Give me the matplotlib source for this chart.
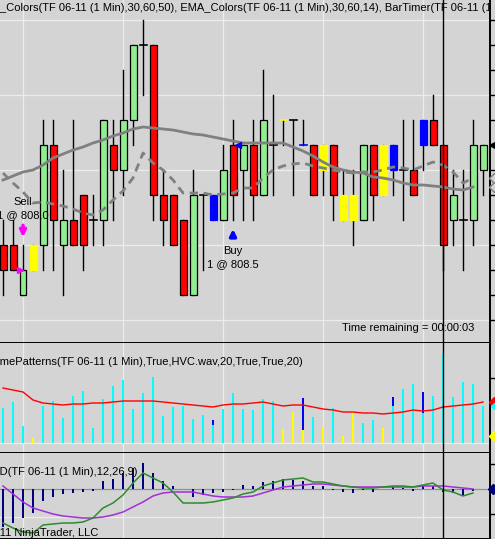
import numpy as np
import matplotlib
matplotlib.use("Agg")
import matplotlib.pyplot as plt
from matplotlib.patches import Rectangle

# ---- price bars (TF 06-11, 1 min) ----
opens = [808.1, 808.1, 807.9, 808.0, 808.1, 808.5, 808.1, 808.2, 808.3, 808.2,
         808.2, 808.5, 808.4, 808.6, 808.9, 808.9, 808.3, 808.3, 808.2, 807.9,
         808.3, 808.2, 808.2, 808.5, 808.4, 808.5, 808.3, 808.5, 808.6, 808.6,
         808.5, 808.5, 808.5, 808.5, 808.3, 808.3, 808.2, 808.5, 808.5, 808.5,
         808.4, 808.4, 808.6, 808.6, 808.5, 808.2, 808.2, 808.2, 808.4]
highs = [808.2, 808.2, 808.1, 808.1, 808.6, 808.6, 808.4, 808.6, 808.3, 808.3,
         808.6, 808.6, 808.8, 808.9, 809.0, 808.9, 808.4, 808.3, 808.2, 808.4,
         808.3, 808.3, 808.5, 808.6, 808.5, 808.6, 808.8, 808.7, 808.6, 808.6,
         808.6, 808.5, 808.5, 808.5, 808.4, 808.4, 808.5, 808.5, 808.5, 808.5,
         808.6, 808.6, 808.6, 808.7, 808.5, 808.4, 808.4, 808.6, 808.5]
lows = [807.9, 808.0, 807.9, 808.0, 808.0, 808.0, 807.9, 808.1, 808.0, 808.1,
        808.1, 808.2, 808.3, 808.5, 808.7, 808.2, 808.1, 808.1, 807.9, 807.9,
        808.0, 808.2, 808.2, 808.2, 808.2, 808.2, 808.3, 808.3, 808.5, 808.3,
        808.5, 808.3, 808.3, 808.2, 808.2, 808.1, 808.2, 808.2, 808.3, 808.3,
        808.2, 808.3, 808.4, 808.5, 808.0, 808.1, 808.0, 808.1, 808.3]
closes = [808.0, 808.0, 808.0, 808.1, 808.5, 808.2, 808.2, 808.1, 808.1, 808.2,
          808.6, 808.4, 808.6, 808.9, 808.9, 808.3, 808.2, 808.1, 807.9, 808.3,
          808.3, 808.3, 808.4, 808.3, 808.5, 808.3, 808.6, 808.5, 808.6, 808.6,
          808.5, 808.3, 808.4, 808.3, 808.2, 808.2, 808.5, 808.3, 808.3, 808.4,
          808.4, 808.3, 808.5, 808.5, 808.1, 808.3, 808.2, 808.5, 808.5]
# bars painted by the volume pattern indicator
paint_yellow = [3, 28, 32, 34, 35, 38]
paint_blue = [21, 30, 39, 42]

# EMA_Colors 50 (solid) and 14 (dashed)
ema_slow = [808.360, 808.376, 808.392, 808.400, 808.420, 808.448, 808.464, 808.480,
            808.492, 808.508, 808.520, 808.536, 808.548, 808.564, 808.572, 808.568,
            808.564, 808.560, 808.552, 808.544, 808.540, 808.532, 808.524, 808.516,
            808.508, 808.508, 808.508, 808.508, 808.508, 808.492, 808.476, 808.456,
            808.432, 808.412, 808.400, 808.392, 808.388, 808.372, 808.368, 808.360,
            808.348, 808.340, 808.340, 808.336, 808.332, 808.324, 808.320, 808.332]
ema_fast = [808.388, 808.348, 808.312, 808.268, 808.272, 808.264, 808.256, 808.244,
            808.228, 808.220, 808.240, 808.280, 808.316, 808.368, 808.468, 808.428,
            808.400, 808.360, 808.308, 808.308, 808.308, 808.300, 808.304, 808.308,
            808.328, 808.328, 808.368, 808.400, 808.416, 808.424, 808.428, 808.416,
            808.408, 808.400, 808.392, 808.388, 808.392, 808.392, 808.400, 808.412,
            808.408, 808.400, 808.416, 808.432, 808.420, 808.392, 808.348, 808.368]

# ---- VolumePatterns ----
volume = [350, 410, 170, 50, 370, 420, 250, 470, 520, 150,
          440, 570, 630, 340, 500, 660, 270, 360, 370, 240,
          280, 230, 340, 500, 340, 330, 440, 420, 140, 310,
          450, 260, 160, 350, 70, 320, 200, 230, 150, 460,
          540, 590, 510, 470, 900, 460, 610, 590, 370]
vol_blue_part = {21: 50, 30: 320, 39: 90, 42: 210}
vol_yellow = [3, 28, 29, 30, 32, 34, 35, 38]
vol_avg = [550, 530, 510, 430, 400, 390, 380, 390, 390, 400,
           400, 410, 420, 420, 420, 420, 410, 400, 390, 380,
           370, 360, 380, 390, 390, 400, 410, 390, 370, 380,
           380, 360, 340, 330, 310, 310, 300, 300, 290, 300,
           310, 330, 320, 330, 360, 370, 380, 390, 410]

# ---- MACD(12,26,9) ----
macd_hist = [-0.076, -0.068, -0.058, -0.048, -0.024, -0.016, -0.010, -0.008, -0.006, -0.004,
             0.016, 0.020, 0.032, 0.042, 0.052, 0.032, 0.016, 0.006, 0.000, -0.016,
             -0.012, -0.008, -0.006, -0.002, 0.008, 0.006, 0.014, 0.016, 0.020, 0.018,
             0.016, 0.006, 0.006, -0.001, -0.006, -0.008, -0.002, -0.006, 0.001, 0.004,
             0.002, -0.004, 0.006, 0.006, -0.006, -0.008, -0.014, -0.004]
macd_line = [-0.068, -0.078, -0.086, -0.088, -0.072, -0.070, -0.068, -0.068, -0.066, -0.058,
             -0.038, -0.028, -0.012, 0.012, 0.032, 0.022, 0.012, -0.006, -0.028, -0.028,
             -0.028, -0.026, -0.022, -0.018, -0.010, -0.006, 0.006, 0.012, 0.018, 0.020,
             0.022, 0.014, 0.014, 0.010, 0.006, 0.004, 0.002, 0.002, 0.004, 0.006,
             0.006, 0.004, 0.008, 0.012, -0.002, -0.006, -0.014, -0.008]
macd_signal = [0.006, -0.010, -0.026, -0.038, -0.044, -0.050, -0.054, -0.056, -0.058, -0.058,
               -0.056, -0.052, -0.046, -0.036, -0.026, -0.014, -0.008, -0.006, -0.006, -0.006,
               -0.010, -0.014, -0.016, -0.016, -0.016, -0.014, -0.008, -0.002, 0.004, 0.006,
               0.008, 0.010, 0.010, 0.008, 0.006, 0.004, 0.004, 0.004, 0.004, 0.004,
               0.004, 0.004, 0.006, 0.006, 0.006, 0.004, 0.002, 0.000]

BG = "#d4d4d4"
GRID = "#ececec"
W, H, PW = 495, 539, 490

plt.rcParams["font.family"] = ["Liberation Sans", "DejaVu Sans"]
plt.rcParams["font.size"] = 8

fig = plt.figure(figsize=(W / 100, H / 100), dpi=100, facecolor=BG)


def add_panel(top, bottom):
    ax = fig.add_axes([0, 1 - bottom / H, PW / W, (bottom - top) / H])
    ax.set_facecolor(BG)
    ax.set_xlim(-0.3, 48.7)
    for side in ("left", "top"):
        ax.spines[side].set_visible(False)
    for side in ("right", "bottom"):
        ax.spines[side].set_color("black")
        ax.spines[side].set_linewidth(1.4)
    ax.set_xticks([])
    ax.yaxis.tick_right()
    ax.tick_params(axis="y", length=4, width=1, labelright=False, labelleft=False)
    for gx in (2, 12, 22, 32, 42):
        ax.axvline(gx, color=GRID, lw=0.9, zorder=0)
    ax.axvline(44, color="black", lw=1, zorder=6)  # crosshair
    return ax, top, bottom


ax_p, p_top, p_bot = add_panel(0, 343)
ax_v, v_top, v_bot = add_panel(343, 453)
ax_m, m_top, m_bot = add_panel(453, 539)

renderer = fig.canvas.get_renderer()


def text_px(ax, top, bottom, x_px, y_px, s, cut="", **kw):
    # place text by pixel position; the part in `cut` hangs off the left edge
    shift = 0
    if cut:
        t = fig.text(0, 0, cut, fontsize=kw.get("fontsize", 8))
        shift = t.get_window_extent(renderer).width
        t.remove()
    ax.text((x_px - shift) / PW, 1 - (y_px - top) / (bottom - top), s,
            transform=ax.transAxes, va="center", clip_on=True, zorder=8, **kw)


# ---------------- price panel ----------------
ax_p.set_ylim(807.708, 809.08)
ax_p.set_yticks(np.arange(807.8, 809.05, 0.1))
for gy in (807.8, 808.1, 808.4, 808.7, 809.0):
    ax_p.axhline(gy, color=GRID, lw=0.9, zorder=0)

bw = 0.7
for i, (o, h, l, c) in enumerate(zip(opens, highs, lows, closes)):
    if i in paint_yellow:
        fc, ec = "#ffff00", "#ffff00"
    elif i in paint_blue:
        fc, ec = "#0000ff", "#0000ff"
    elif c > o:
        fc, ec = "#90ee90", "black"
    elif c < o:
        fc, ec = "#ff0000", "black"
    else:
        fc, ec = "black", "black"
    ax_p.plot([i, i], [l, h], color="black", lw=1, zorder=2)
    if o == c:
        ax_p.plot([i - bw / 2, i + bw / 2], [o, o], color=ec, lw=1.2, zorder=3)
    else:
        ax_p.add_patch(Rectangle((i - bw / 2, min(o, c)), bw, abs(c - o),
                                 facecolor=fc, edgecolor=ec, lw=0.9, zorder=3))

xs = np.arange(len(ema_slow))
ax_p.plot(xs, ema_slow, color="#808080", lw=2, zorder=4)
ax_p.plot(xs, ema_fast, color="#808080", lw=2, ls=(0, (3, 2)), zorder=4)

# executions
ax_p.annotate("", xy=(2, 808.12), xytext=(2, 808.19),
              arrowprops=dict(arrowstyle="-|>", color="#ff00ff", lw=2.5, mutation_scale=9))
ax_p.plot(1.7, 808.0, marker=">", color="#ff00ff", ms=5, zorder=5)
ax_p.text(2, 808.272, "Sell", ha="center", va="center", fontsize=8)
ax_p.text(2, 808.22, "1 @ 808.0", ha="center", va="center", fontsize=8)
ax_p.annotate("", xy=(23, 808.175), xytext=(23, 808.12),
              arrowprops=dict(arrowstyle="-|>", color="#0000ff", lw=2.5, mutation_scale=9))
ax_p.plot(23.45, 808.5, marker="<", color="#0000ff", ms=5, zorder=5)
ax_p.text(23, 808.076, "Buy", ha="center", va="center", fontsize=8)
ax_p.text(23, 808.024, "1 @ 808.5", ha="center", va="center", fontsize=8)
ax_p.text(47.1, 807.768, "Time remaining = 00:00:03", ha="right", va="center", fontsize=8)

text_px(ax_p, p_top, p_bot, 0, 8,
        "EMA_Colors(TF 06-11 (1 Min),30,60,50), EMA_Colors(TF 06-11 (1 Min),30,60,14), "
        "BarTimer(TF 06-11 (1 Min))", cut="EMA")

ax_p.plot(48.95, closes[-1], marker="<", color="black", ms=6, clip_on=False, zorder=9)
ax_p.plot(49.05, ema_fast[-1], marker="D", mfc=BG, mec="#808080", ms=5, clip_on=False, zorder=9)
ax_p.plot(49.05, ema_slow[-1], marker="D", mfc=BG, mec="#808080", ms=5, clip_on=False, zorder=9)

# ---------------- volume panel ----------------
ax_v.set_ylim(-100, 1000)
ax_v.set_yticks([650])
ax_v.axhline(0, color=GRID, lw=0.9, zorder=0)
for i, v in enumerate(volume):
    base_col = "#ffff00" if i in vol_yellow else "#00ffff"
    blue = vol_blue_part.get(i, 0)
    ax_v.bar(i, v - blue, width=0.28, bottom=0, color=base_col, zorder=3)
    if blue:
        ax_v.bar(i, blue, width=0.28, bottom=v - blue, color="#0000ff", zorder=3)
ax_v.plot(np.arange(len(vol_avg)), vol_avg, color="#ff0000", lw=1, zorder=4)
text_px(ax_v, v_top, v_bot, 0, 362,
        "VolumePatterns(TF 06-11 (1 Min),True,HVC.wav,20,True,True,20)", cut="Volu")
ax_v.plot(49.05, vol_avg[-1], marker="D", color="#ff0000", ms=5, clip_on=False, zorder=9)
ax_v.plot(49.05, volume[-1], marker="D", color="#00ffff", ms=3, clip_on=False, zorder=9)
ax_v.plot(49.05, 70, marker="D", color="#ffff00", ms=5, clip_on=False, zorder=9)

# ---------------- MACD panel ----------------
ax_m.set_ylim(-0.1, 0.072)
ax_m.set_yticks([0.05, -0.05])
ax_m.axhline(-0.056, color=GRID, lw=0.9, zorder=0)
ax_m.axhline(0, color="#909090", lw=0.9, zorder=1)
xm = np.arange(len(macd_hist))
ax_m.bar(xm, macd_hist, width=0.28, color="#000080", zorder=3)
ax_m.plot(xm, macd_signal, color="#a030d8", lw=1.1, zorder=4)
ax_m.plot(xm, macd_line, color="#2e8b2e", lw=1.1, zorder=5)
text_px(ax_m, m_top, m_bot, 0, 472, "MACD(TF 06-11 (1 Min),12,26,9)", cut="MAC")
text_px(ax_m, m_top, m_bot, 0, 533, "\u00a9 2011 NinjaTrader, LLC", cut="\u00a9 20")
ax_m.plot(49.0, 0, marker="D", color="#000080", ms=5, clip_on=False, zorder=9)

fig.savefig("out.png", dpi=100, facecolor=BG)
